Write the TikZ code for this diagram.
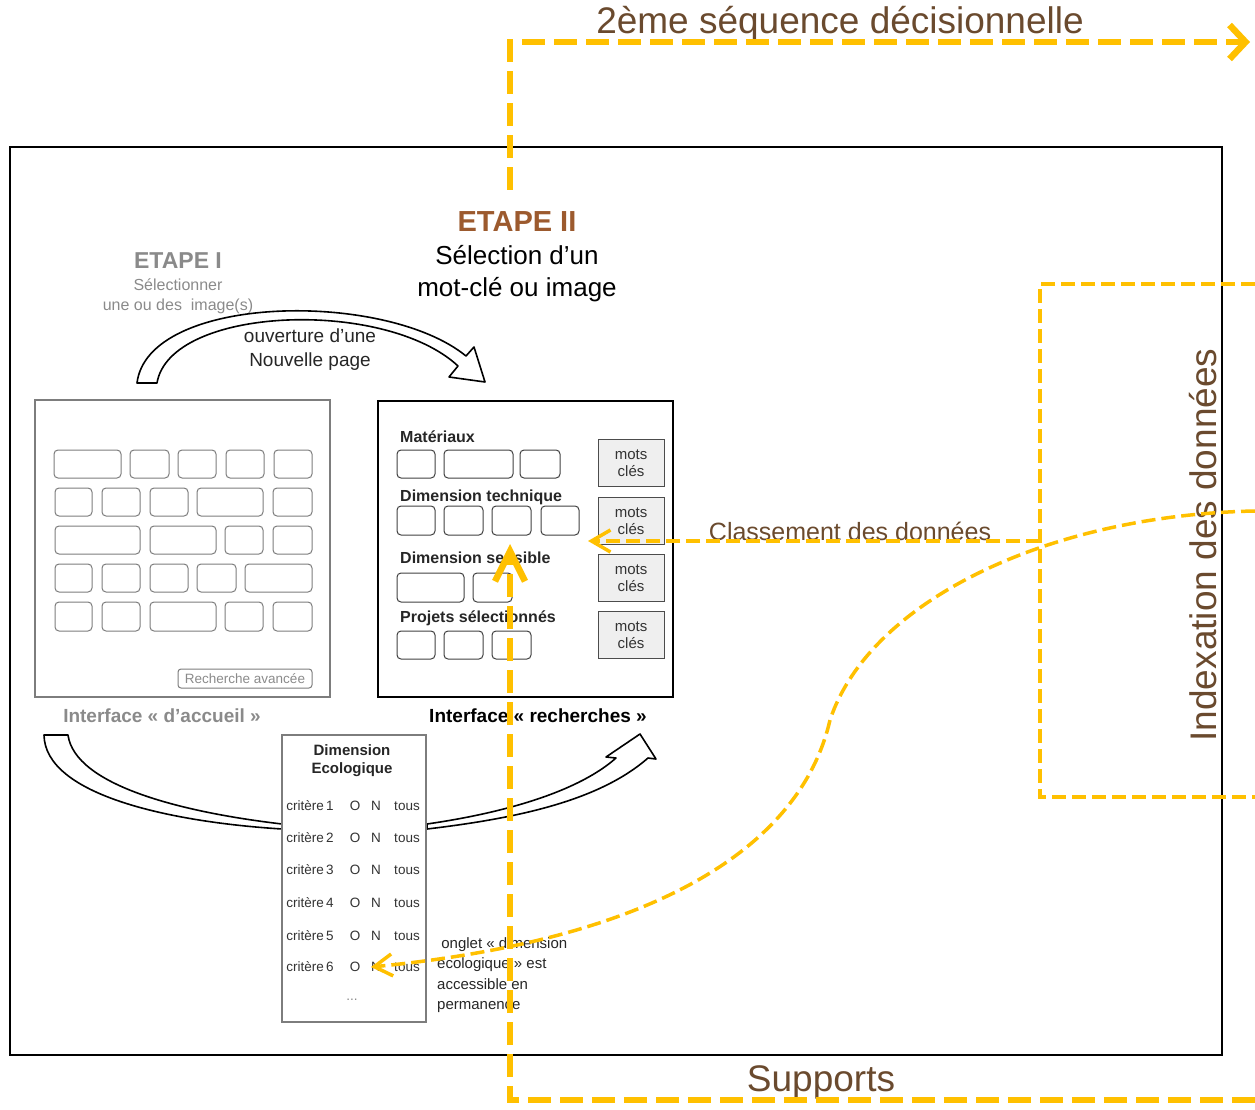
\documentclass[tikz,border=0pt]{standalone}
\usepackage{fontspec}
\setmainfont{Liberation Sans}
\usetikzlibrary{arrows.meta,positioning}
\definecolor{gold}{RGB}{255,192,0}
\definecolor{brun}{RGB}{106,74,46}
\definecolor{rouille}{RGB}{156,90,46}
\definecolor{gristxt}{RGB}{138,138,138}
\definecolor{grisbord}{RGB}{125,125,125}
\definecolor{grisfond}{RGB}{239,239,239}
\newcommand{\taille}[2]{\fontsize{#1}{#2}\selectfont}

\begin{document}
\begin{tikzpicture}[x=1pt,y=-1pt,
    btn/.style={draw=grisbord, rounded corners=4pt, line width=1pt},
    btnr/.style={draw=black!75, rounded corners=4pt, line width=1pt},
    motcle/.style={draw=black!70, fill=grisfond, line width=1pt, minimum width=66pt, minimum height=47pt, inner sep=0pt, align=center, font=\taille{15}{17}, text=black!80},
    rubrique/.style={anchor=west, font=\bfseries\taille{16}{18}, inner sep=0pt, text=black!85},
    crit/.style={font=\taille{13.5}{15}, inner sep=0pt, text=black!80},
    ligne/.style={gold, line width=6.5pt, dash pattern=on 23pt off 9pt},
    fleche/.style={gold, line width=3.5pt, dash pattern=on 14pt off 6pt},
    titre/.style={brun, font=\taille{37}{40}, inner sep=0pt},
    creux/.style={draw=black, fill=white, line width=1.6pt, line join=round}
]
\useasboundingbox (0,0) rectangle (1255,1110);

% cadre general
\draw[line width=1.5pt] (10,147) rectangle (1222,1055);

% interface d'accueil
\draw[grisbord, line width=2pt] (35,400) rectangle (330,697);
\foreach \ya/\yb/\liste in {450/478/{54/121,130/169,178/216,226/264,274/312},
    488/516/{55/92,102/140,150/188,197/263,273/312},
    526/554/{55/140,150/216,225/263,273/312},
    564/592/{55/92,102/140,150/188,197/236,245/312},
    602/631/{55/92,102/140,150/216,225/263,273/312}}
  \foreach \xa/\xb in \liste
    \draw[btn] (\xa,\ya) rectangle (\xb,\yb);
\node[draw=grisbord, rounded corners=3pt, line width=1pt, minimum width=134pt, minimum height=19pt, inner sep=0pt, text=gristxt, font=\taille{13.5}{15}] (avancee) at (245,678.5) {Recherche avancée};
\node[text=gristxt, font=\bfseries\taille{19}{22}] (accueil) at (162,716) {Interface «~d’accueil~»};

% interface recherches
\draw[line width=2pt] (378,401) rectangle (673,697);
\foreach \ya/\yb/\liste in {450/478/{397/435,444/513,520/560},
    506/535/{397/435,444/483,492/531,541/579},
    573/602/{397/464,473/512},
    631/659/{397/435,444/483,492/531}}
  \foreach \xa/\xb in \liste
    \draw[btnr] (\xa,\ya) rectangle (\xb,\yb);
\node[rubrique] (materiaux) at (400,437) {Matériaux};
\node[rubrique] (technique) at (400,497) {Dimension technique};
\node[rubrique] (sensible) at (400,558) {Dimension sensible};
\node[rubrique] (projets) at (400,618) {Projets sélectionnés};
\foreach \y [count=\i] in {463,521,578,635}
  \node[motcle] (mots\i) at (631,\y) {mots\\clés};
\node[font=\bfseries\taille{19}{22}] (recherches) at (538,716) {Interface «~recherches~»};

% etapes
\node[text=gristxt, font=\bfseries\taille{23}{26}] (etape1) at (178,261) {ETAPE I};
\node[text=gristxt, font=\taille{16}{20}, align=center] (etape1txt) at (178,296) {Sélectionner\\une ou des\ \ image(s)};
\node[text=rouille, font=\bfseries\taille{29}{32}] (etape2) at (517,222) {ETAPE II};
\node[font=\taille{26}{32}, align=center] (etape2txt) at (517,274) {Sélection d’un\\mot-clé ou image};

% fleche creuse du haut
\draw[creux] (137,383) .. controls (148,294) and (385,290) .. (466,356) -- (474,347) -- (485,382) -- (449,377) -- (458,366) .. controls (385,298) and (170,306) .. (157,383) -- cycle;
\node[font=\taille{19}{24}, align=center, text=black!85] (ouverture) at (310,350) {ouverture d’une\\Nouvelle page};

% fleches creuses du bas
\draw[creux] (44,735) -- (68,735) .. controls (75,785) and (180,812) .. (282,824) -- (282,829) .. controls (170,822) and (45,795) .. (44,735) -- cycle;
\draw[creux] (427,829) .. controls (520,818) and (600,800) .. (648,758) -- (656,759) -- (640,734) -- (606,757) -- (616,758) .. controls (580,790) and (510,812) .. (427,824) -- cycle;

% dimension ecologique
\node[draw=grisbord, line width=2pt, fill=white, minimum width=144pt, minimum height=287pt, inner sep=0pt] (ecolo) at (354,878.5) {};
\node[font=\bfseries\taille{15}{18}, align=center, text=black!85] (ecolotitre) at (352,761) {Dimension\\Ecologique};
\foreach \y [count=\i] in {806,838,870,903,936,967} {
  \node[crit] (critere\i) at (310,\y) {critère\,\i};
  \node[crit] (oui\i) at (355,\y) {O};
  \node[crit] (non\i) at (376,\y) {N};
  \node[crit] (tous\i) at (407,\y) {tous};
}
\node[crit, text=gristxt] (suite) at (352,1000) {...};
\node[anchor=west, align=left, font=\taille{15}{20.3}, text=black!85, inner sep=0pt] (onglet) at (437,975) {\ onglet «~dimension\\écologique~» est\\accessible en\\permanence};

% textes de sequence
\node[titre] (sequence) at (840,24) {2ème séquence décisionnelle};
\node[titre] (supports) at (821,1082) {Supports};
\node[brun, font=\taille{25}{28}, inner sep=0pt] (classement) at (850,531) {Classement des données};
\node[titre, rotate=90] (indexation) at (1203,545) {Indexation des données};

% pointilles jaunes
\coordinate (haut) at (510,190);
\coordinate (coinhaut) at (510,42);
\coordinate (finhaut) at (1250,42);
\coordinate (droitebas) at (1255,1100);
\coordinate (coinbas) at (510,1100);
\coordinate (pointe) at (510,544);
\draw[ligne, -{Straight Barb[length=16pt,width=34pt]}] (haut) -- (coinhaut) -- (finhaut);
\draw[ligne, -{Straight Barb[length=30pt,width=30pt]}] (droitebas) -- (coinbas) -- (pointe);

\draw[fleche] (1255,284) -- (1040,284) -- (1040,797) -- (1255,797);
\coordinate (depart) at (1040,541);
\coordinate (cible) at (588,541);
\draw[fleche, -{Straight Barb[length=19pt,width=22pt]}] (depart) -- (cible);
\draw[fleche, -{Straight Barb[length=18pt,width=22pt]}] (1255,511) .. controls (1050,515) and (870,600) .. (830,720) .. controls (800,850) and (650,940) .. (non6.west);
\end{tikzpicture}
\end{document}
